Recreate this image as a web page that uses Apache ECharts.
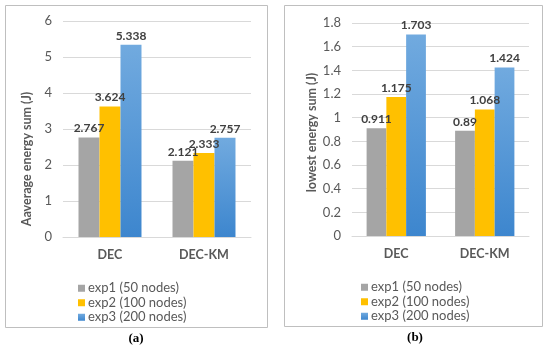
<!DOCTYPE html>
<html><head><meta charset="utf-8">
<script src="https://cdn.jsdelivr.net/npm/echarts@6/dist/echarts.min.js"></script>
<style>html,body{margin:0;padding:0;background:#fff}#c{width:550px;height:351px}</style>
</head><body><div id="c"></div>
<script>
var categories = ['DEC', 'DEC-KM'];
var seriesNames = ['exp1 (50 nodes)', 'exp2 (100 nodes)', 'exp3 (200 nodes)'];
var avgExp1 = [2.767, 2.121];
var avgExp2 = [3.624, 2.333];
var avgExp3 = [5.338, 2.757];
var lowExp1 = [0.911, 0.89];
var lowExp2 = [1.175, 1.068];
var lowExp3 = [1.703, 1.424];
var leftTicks = {min: 0, max: 6, interval: 1};
var rightTicks = {min: 0, max: 1.8, interval: 0.2};

var FONT = 'Lato';
var blueGrad = new echarts.graphic.LinearGradient(0, 0, 0, 1, [
  {offset: 0, color: '#71AADF'}, {offset: 1, color: '#3D86CE'}]);
var colors = ['#A5A5A5', '#FFC000', blueGrad];

function bar(name, data, idx, colorIdx) {
  return {
    name: name, type: 'bar', xAxisIndex: idx, yAxisIndex: idx, data: data,
    barGap: '0%', barCategoryGap: '33%',
    itemStyle: {color: colors[colorIdx]},
    label: {show: true, position: 'top', distance: 3, fontFamily: FONT, fontWeight: 'bold', fontSize: 12, color: '#404040'}
  };
}
function xAx(idx) {
  return {type: 'category', gridIndex: idx, data: categories,
    axisLine: {lineStyle: {color: '#D9D9D9'}}, axisTick: {show: false},
    axisLabel: {fontFamily: FONT, fontWeight: 'bold', fontSize: 12.5, color: '#595959', margin: 11}};
}
function yAx(idx, t, name, gap, pad) {
  return {type: 'value', gridIndex: idx, min: t.min, max: t.max, interval: t.interval,
    name: name, nameLocation: 'middle', nameGap: gap, nameRotate: 90,
    nameTextStyle: {fontFamily: FONT, fontWeight: 'bold', fontSize: 12.5, color: '#595959', padding: pad},
    axisLine: {show: false}, axisTick: {show: false},
    splitLine: {lineStyle: {color: '#D9D9D9'}},
    axisLabel: {fontFamily: FONT, fontSize: 13, color: '#595959', margin: 11,
      formatter: function (v) { return String(+v.toFixed(1)); }}};
}
function leg(left, top) {
  return {orient: 'vertical', left: left, top: top, itemWidth: 7, itemHeight: 7, itemGap: 0,
    icon: 'rect', data: seriesNames,
    textStyle: {fontFamily: FONT, fontSize: 13, color: '#595959', lineHeight: 14.5, padding: [0, 0, 0, -2]}};
}
var chart = echarts.init(document.getElementById('c'));
chart.setOption({
  animation: false,
  backgroundColor: '#fff',
  grid: [
    {left: 63, right: 299, top: 21, bottom: 114},
    {left: 352, right: 21, top: 23, bottom: 115}
  ],
  xAxis: [xAx(0), xAx(1)],
  yAxis: [yAx(0, leftTicks, 'Aaverage energy sum (J)', 30, [0, 60, 0, 0]), yAx(1, rightTicks, 'lowest energy sum (J)', 33, [0, 6, 0, 0])],
  legend: [leg(73, 276), leg(356, 275)],
  series: [
    bar(seriesNames[0], avgExp1, 0, 0), bar(seriesNames[1], avgExp2, 0, 1), bar(seriesNames[2], avgExp3, 0, 2),
    bar(seriesNames[0], lowExp1, 1, 0), bar(seriesNames[1], lowExp2, 1, 1), bar(seriesNames[2], lowExp3, 1, 2)
  ],
  graphic: [
    {type: 'rect', shape: {x: 5.5, y: 5.5, width: 262, height: 322}, style: {fill: 'none', stroke: '#BFBFBF', lineWidth: 1}, silent: true},
    {type: 'rect', shape: {x: 284.5, y: 5.5, width: 258, height: 321}, style: {fill: 'none', stroke: '#BFBFBF', lineWidth: 1}, silent: true},
    {type: 'text', x: 136, y: 339, style: {text: '(a)', font: 'bold 13px "Liberation Serif"', fill: '#000', textAlign: 'center', textVerticalAlign: 'middle'}},
    {type: 'text', x: 415, y: 338, style: {text: '(b)', font: 'bold 13px "Liberation Serif"', fill: '#000', textAlign: 'center', textVerticalAlign: 'middle'}}
  ]
});
</script></body></html>
